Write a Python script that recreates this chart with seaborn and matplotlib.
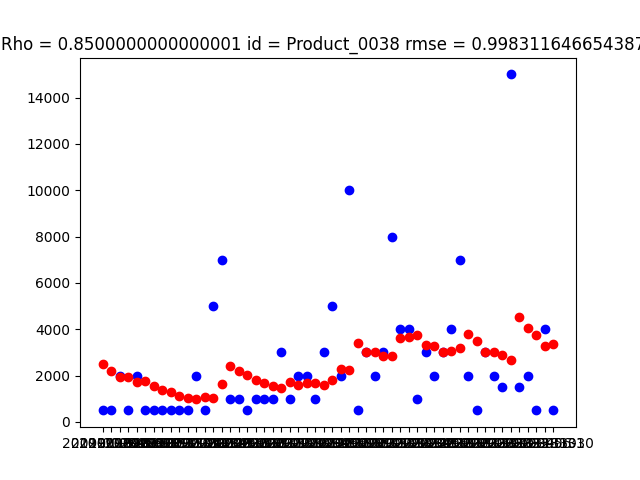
import matplotlib
matplotlib.use("Agg")
import matplotlib.pyplot as plt
import seaborn as sns

dates = [
    "2019-01-31", "2019-02-28", "2019-03-31", "2019-04-30", "2019-05-31", "2019-06-30",
    "2019-07-31", "2019-08-31", "2019-09-30", "2019-10-31", "2019-11-30", "2019-12-31",
    "2020-01-31", "2020-02-29", "2020-03-31", "2020-04-30", "2020-05-31", "2020-06-30",
    "2020-07-31", "2020-08-31", "2020-09-30", "2020-10-31", "2020-11-30", "2020-12-31",
    "2021-01-31", "2021-02-28", "2021-03-31", "2021-04-30", "2021-05-31", "2021-06-30",
    "2021-07-31", "2021-08-31", "2021-09-30", "2021-10-31", "2021-11-30", "2021-12-31",
    "2022-01-31", "2022-02-28", "2022-03-31", "2022-04-30", "2022-05-31", "2022-06-30",
    "2022-07-31", "2022-08-31", "2022-09-30", "2022-10-31", "2022-11-30", "2022-12-31",
    "2023-01-31", "2023-02-28", "2023-03-31", "2023-04-30", "2023-05-31", "2023-06-30",
]

actual = [
    500, 500, 2000, 500, 2000, 500, 500, 500, 500, 500, 500, 2000,
    500, 5000, 7000, 1000, 1000, 500, 1000, 1000, 1000, 3000, 1000, 2000,
    2000, 1000, 3000, 5000, 2000, 10000, 500, 3000, 2000, 3000, 8000, 4000,
    4000, 1000, 3000, 2000, 3000, 4000, 7000, 2000, 500, 3000, 2000, 1500,
    15000, 1500, 2000, 500, 4000, 500,
]

predicted = [
    2500, 2200, 1950, 1950, 1730, 1750, 1560, 1380, 1290, 1140, 1050, 1000,
    1090, 1040, 1640, 2420, 2190, 2030, 1810, 1700, 1570, 1480, 1730, 1600,
    1700, 1700, 1600, 1800, 2280, 2250, 3400, 3000, 3000, 2850, 2850, 3630,
    3670, 3760, 3330, 3280, 3040, 3070, 3200, 3800, 3500, 3040, 3040, 2890,
    2680, 4540, 4070, 3760, 3280, 3370,
]

title = "Rho = 0.8500000000000001 id = Product_0038 rmse = 0.9983116466543872"

fig, ax = plt.subplots(figsize=(6.4, 4.8), dpi=100)
sns.scatterplot(x=dates, y=actual, color="blue", s=36, edgecolor="blue",
                linewidth=1, ax=ax)
sns.scatterplot(x=dates, y=predicted, color="red", s=36, edgecolor="red",
                linewidth=1, ax=ax)
ax.set_title(title)
ax.set_xlabel("")
ax.set_ylabel("")
fig.savefig("out.png", dpi=100)
